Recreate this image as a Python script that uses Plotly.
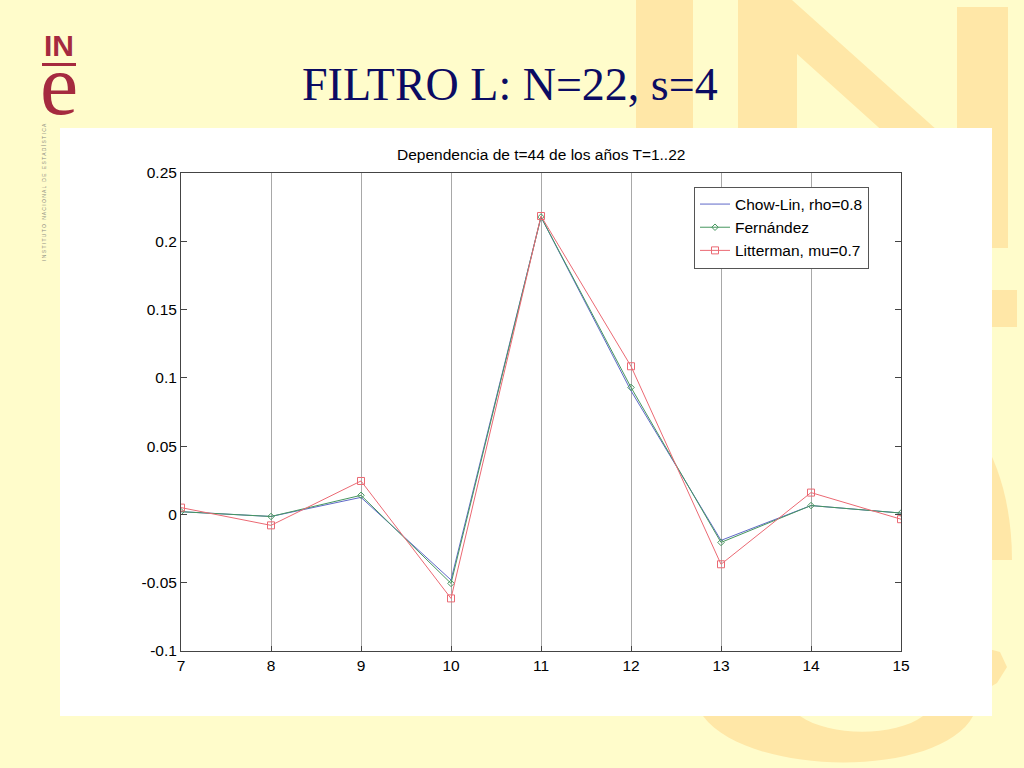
import plotly.graph_objects as go

# ---------------- data ----------------
x_years = [7, 8, 9, 10, 11, 12, 13, 14, 15]
chow_lin = [0.002, -0.0015, 0.0125, -0.048, 0.2178, 0.0905, -0.019, 0.0065, 0.001]
fernandez = [0.002, -0.0015, 0.014, -0.0505, 0.2178, 0.0930, -0.0205, 0.0065, 0.001]
litterman = [0.005, -0.008, 0.0245, -0.0615, 0.2185, 0.1085, -0.0365, 0.016, -0.0035]
series_names = ["Chow-Lin, rho=0.8", "Fernández", "Litterman, mu=0.7"]
x_tickvals = [7, 8, 9, 10, 11, 12, 13, 14, 15]
y_tickvals = [-0.1, -0.05, 0, 0.05, 0.1, 0.15, 0.2, 0.25]
y_ticktext = ["-0.1", "-0.05", "0", "0.05", "0.1", "0.15", "0.2", "0.25"]
slide_title = "FILTRO L: N=22, s=4"
chart_title = "Dependencia de t=44 de los años T=1..22"
logo_side_text = "I N S T I T U T O   N A C I O N A L   D E   E S T A D Í S T I C A"

# ---------------- layout helpers (pixel -> paper) ----------------
W, H = 1024, 768
L, R, T, B = 181, 901, 173, 651


def px(x):
    return (x - L) / (R - L)


def py(y):
    return (B - y) / (B - T)


def poly(points):
    return "M " + " L ".join(f"{px(a):.5f},{py(b):.5f}" for a, b in points) + " Z"


def pt(a, b):
    return f"{px(a):.5f},{py(b):.5f}"


BG = "#FFFCCB"
LOGO_BG = "#FFE7A7"
RED = "#A52A3F"
FS = 15.5

shapes = []


def rect(x0, y0, x1, y1, color):
    shapes.append(dict(type="rect", xref="paper", yref="paper", layer="below",
                       x0=px(x0), x1=px(x1), y0=py(y1), y1=py(y0),
                       fillcolor=color, line=dict(width=0)))


def path(p, color):
    shapes.append(dict(type="path", xref="paper", yref="paper", layer="below",
                       path=p, fillcolor=color, line=dict(width=0)))


# big background logo
rect(636, 0, 693, 248, LOGO_BG)
path(poly([(738, 0), (792, 0), (957, 148), (957, 7), (1008, 7), (1008, 248),
           (957, 248), (957, 198), (797, 54), (797, 248), (738, 248)]), LOGO_BG)
rect(636, 290, 1017, 327, LOGO_BG)
path(f"M {pt(703,716)} C {pt(750,778)} {pt(940,778)} {pt(973,716)} L {pt(923,716)} "
     f"C {pt(895,737)} {pt(830,737)} {pt(800,716)} Z", LOGO_BG)
path(f"M {pt(980,435)} C {pt(1000,465)} {pt(1012,510)} {pt(1012,560)} L {pt(980,560)} Z", LOGO_BG)
path(poly([(985, 648), (1000, 652), (1007, 667), (997, 683), (985, 690)]), LOGO_BG)
# white chart panel
rect(60, 128, 992, 716, "white")
# small logo underline
rect(42, 63, 76, 66, RED)

fig = go.Figure()
fig.add_trace(go.Scatter(x=x_years, y=chow_lin, name=series_names[0], mode="lines",
                         line=dict(color="rgb(95,105,200)", width=1)))
fig.add_trace(go.Scatter(x=x_years, y=fernandez, name=series_names[1], mode="lines+markers",
                         line=dict(color="rgb(70,150,95)", width=1),
                         marker=dict(symbol="diamond-open", size=5, color="rgb(70,150,95)",
                                     line=dict(width=1))))
fig.add_trace(go.Scatter(x=x_years, y=litterman, name=series_names[2], mode="lines+markers",
                         line=dict(color="rgb(235,105,115)", width=1),
                         marker=dict(symbol="square-open", size=7, color="rgb(235,105,115)",
                                     line=dict(width=1))))

annotations = [
    dict(text=slide_title, x=px(510), y=py(85), xref="paper", yref="paper",
         showarrow=False, xanchor="center", yanchor="middle",
         font=dict(family="Liberation Serif", size=46, color="#0B0B62")),
    dict(text=chart_title, x=0.5, y=py(155), xref="paper", yref="paper",
         showarrow=False, xanchor="center", yanchor="middle",
         font=dict(family="Liberation Sans", size=FS, color="black")),
    dict(text="<b>IN</b>", x=px(59), y=py(45.5), xref="paper", yref="paper",
         showarrow=False, xanchor="center", yanchor="middle",
         font=dict(family="Liberation Sans", size=30, color=RED)),
    dict(text="e", x=px(59), y=py(85), xref="paper", yref="paper",
         showarrow=False, xanchor="center", yanchor="middle",
         font=dict(family="Liberation Serif", size=86, color=RED)),
    dict(text=logo_side_text, x=px(44), y=py(192),
         xref="paper", yref="paper", showarrow=False, textangle=-90,
         xanchor="center", yanchor="middle",
         font=dict(family="Liberation Sans", size=5, color="#8a8a80")),
]

fig.update_layout(
    width=W, height=H,
    margin=dict(l=L, r=W - R, t=T, b=H - B, pad=0),
    paper_bgcolor=BG, plot_bgcolor="white",
    shapes=shapes, annotations=annotations,
    font=dict(family="Liberation Sans", size=FS, color="black"),
    showlegend=True,
    legend=dict(x=px(694), y=py(227.5), xanchor="left", yanchor="middle",
                bgcolor="white", bordercolor="#555555", borderwidth=1,
                font=dict(family="Liberation Sans", size=FS, color="black"),
                tracegroupgap=0, itemwidth=30),
    xaxis=dict(range=[7, 15], tickvals=x_tickvals, showgrid=True,
               gridcolor="#a8a8a8", gridwidth=1, zeroline=False,
               showline=True, linecolor="#444444", linewidth=1, mirror=True,
               ticks="inside", ticklen=5, tickcolor="#444444",
               tickfont=dict(size=FS)),
    yaxis=dict(range=[-0.1, 0.25], tickvals=y_tickvals, ticktext=y_ticktext,
               showgrid=False, zeroline=False,
               showline=True, linecolor="#444444", linewidth=1, mirror="ticks",
               ticks="inside", ticklen=6, tickcolor="#444444",
               tickfont=dict(size=FS)),
)

fig.write_html("out.html", config={"displayModeBar": False},
               post_script="document.body.style.margin='0';document.body.style.overflow='hidden';")
